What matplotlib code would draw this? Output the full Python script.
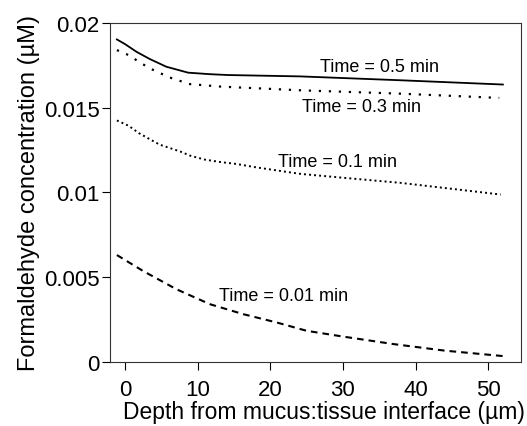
import matplotlib.pyplot as plt

plt.rcParams['font.family'] = ['Liberation Sans', 'DejaVu Sans']

# depth (um) and concentration (uM)
depth_05 = [-1.1, 0, 1.6, 3.4, 5.7, 8.7, 11.7, 14.2, 24.1, 38, 52]
conc_05 = [0.01903, 0.01876, 0.01830, 0.01788, 0.01742, 0.01707, 0.01698,
           0.01693, 0.01685, 0.01662, 0.01637]

depth_03 = [-1.1, 0.5, 1.9, 3.4, 4.7, 6.2, 7.6, 9.0, 10.3, 13.1, 24.1, 38, 51.5]
conc_03 = [0.01840, 0.01811, 0.01772, 0.01733, 0.01707, 0.01678, 0.01658,
           0.01639, 0.01635, 0.01625, 0.01603, 0.01583, 0.01558]

depth_01 = [-1.1, 0.5, 1.9, 3.4, 4.8, 6.2, 7.6, 9.0, 11.0, 13.1, 15.4, 18.1,
            24.1, 30, 37.9, 51.7]
conc_01 = [0.01425, 0.01394, 0.01351, 0.01315, 0.01282, 0.01262, 0.01242,
           0.01217, 0.01194, 0.01180, 0.01168, 0.01148, 0.01110, 0.01087,
           0.01057, 0.00988]

depth_001 = [-1.1, 2.5, 7.1, 11.7, 16.3, 20.9, 25.0, 30, 36.9, 44, 52]
conc_001 = [0.00631, 0.00537, 0.00429, 0.00341, 0.00282, 0.00233, 0.00184,
            0.00150, 0.00106, 0.00067, 0.00035]

labels = ["Time = 0.5 min", "Time = 0.3 min", "Time = 0.1 min", "Time = 0.01 min"]
label_x = [35.0, 32.6, 29.3, 21.8]
label_y = [0.01741, 0.01506, 0.01182, 0.00394]

fig = plt.figure(figsize=(5.27, 4.27), dpi=100)
ax = fig.add_axes([0.2087, 0.1499, 0.78, 0.7939])

ax.plot(depth_05, conc_05, color="black", lw=1.3, ls="-")
ax.plot(depth_03, conc_03, color="black", lw=1.6, ls=(0, (1, 3.5)))
ax.plot(depth_01, conc_01, color="black", lw=1.4, ls=(0, (1, 1.6)))
ax.plot(depth_001, conc_001, color="black", lw=1.5, ls=(0, (3.2, 2.4)))

for txt, lx, ly in zip(labels, label_x, label_y):
    ax.text(lx, ly, txt, fontsize=13, ha="center", va="center")

ax.set_xlim(-2.05, 54.5)
ax.set_ylim(0, 0.02)
ax.set_xticks([0, 10, 20, 30, 40, 50])
ax.set_yticks([0, 0.005, 0.01, 0.015, 0.02])
ax.set_yticklabels(["0", "0.005", "0.01", "0.015", "0.02"])
ax.tick_params(labelsize=16, direction="out", length=6, width=0.8)
ax.tick_params(axis="x", pad=6)
ax.tick_params(axis="y", pad=1.5)

ax.set_xlabel("Depth from mucus:tissue interface (\u00b5m)", fontsize=16.5, labelpad=0)
ax.xaxis.label.set_x(0.52)
ax.set_ylabel("Formaldehyde concentration (\u00b5M)", fontsize=17, labelpad=3)

for s in ax.spines.values():
    s.set_linewidth(0.8)
    s.set_color("#333333")

fig.savefig("out.png", dpi=100)
